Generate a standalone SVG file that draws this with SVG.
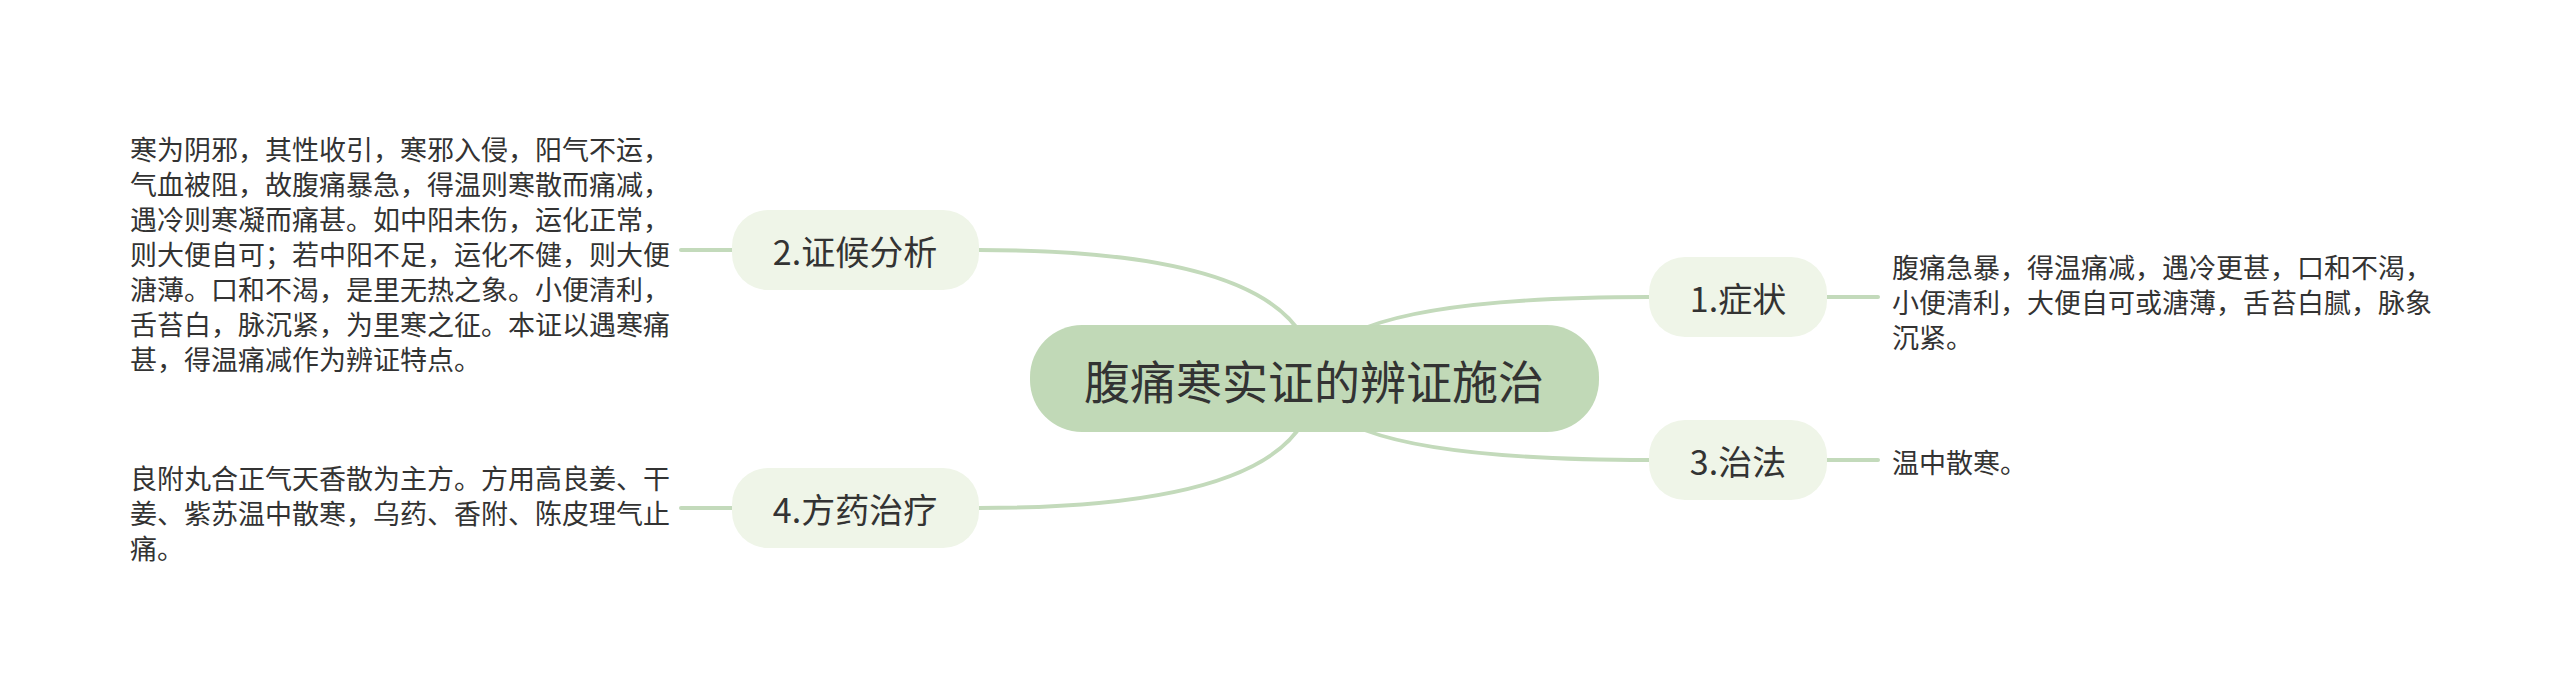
<svg xmlns="http://www.w3.org/2000/svg" width="2560" height="689" viewBox="0 0 2560 689">
<style>
.bg{fill:#ffffff}
.conn{fill:none;stroke:#c3dabb;stroke-width:4;stroke-linecap:round}
.root{fill:#c1d9b7}
.sub{fill:#eff5e8}
.t{font-family:"Noto Sans CJK SC","Noto Sans",sans-serif;fill:#333333;dominant-baseline:central}
.rt{font-size:46px;text-anchor:middle}
.st{font-size:34px;text-anchor:middle}
.lt{font-size:27px}
</style>
<rect class="bg" x="0" y="0" width="2560" height="689"/>
<g id="connectors">
<path class="conn" d="M1314,380 Q1314,250 979,250"/>
<path class="conn" d="M1314,380 Q1314,508 979,508"/>
<path class="conn" d="M1314,380 Q1314,297 1649,297"/>
<path class="conn" d="M1314,380 Q1314,460 1649,460"/>
<path class="conn" d="M681,250 L732,250"/>
<path class="conn" d="M681,508 L732,508"/>
<path class="conn" d="M1827,297 L1878,297"/>
<path class="conn" d="M1827,460 L1878,460"/>
</g>
<g id="root">
<rect class="root" x="1030" y="325" width="569" height="107" rx="52"/>
<text class="t rt" x="1314" y="379">腹痛寒实证的辨证施治</text>
</g>
<g id="node-2">
<rect class="sub" x="732" y="210" width="247" height="80" rx="36"/>
<text class="t st" x="855" y="250">2.证候分析</text>
</g>
<g id="node-4">
<rect class="sub" x="732" y="468" width="247" height="80" rx="36"/>
<text class="t st" x="855" y="508">4.方药治疗</text>
</g>
<g id="node-1">
<rect class="sub" x="1649" y="257" width="178" height="80" rx="36"/>
<text class="t st" x="1738" y="297">1.症状</text>
</g>
<g id="node-3">
<rect class="sub" x="1649" y="420" width="178" height="80" rx="36"/>
<text class="t st" x="1738" y="460">3.治法</text>
</g>
<g id="leaf-2">
<text class="t lt" x="130" y="148">寒为阴邪，其性收引，寒邪入侵，阳气不运，</text>
<text class="t lt" x="130" y="183">气血被阻，故腹痛暴急，得温则寒散而痛减，</text>
<text class="t lt" x="130" y="218">遇冷则寒凝而痛甚。如中阳未伤，运化正常，</text>
<text class="t lt" x="130" y="253">则大便自可；若中阳不足，运化不健，则大便</text>
<text class="t lt" x="130" y="288">溏薄。口和不渴，是里无热之象。小便清利，</text>
<text class="t lt" x="130" y="323">舌苔白，脉沉紧，为里寒之征。本证以遇寒痛</text>
<text class="t lt" x="130" y="358">甚，得温痛减作为辨证特点。</text>
</g>
<g id="leaf-4">
<text class="t lt" x="130" y="477">良附丸合正气天香散为主方。方用高良姜、干</text>
<text class="t lt" x="130" y="512">姜、紫苏温中散寒，乌药、香附、陈皮理气止</text>
<text class="t lt" x="130" y="547">痛。</text>
</g>
<g id="leaf-1">
<text class="t lt" x="1892" y="266">腹痛急暴，得温痛减，遇冷更甚，口和不渴，</text>
<text class="t lt" x="1892" y="301">小便清利，大便自可或溏薄，舌苔白腻，脉象</text>
<text class="t lt" x="1892" y="336">沉紧。</text>
</g>
<g id="leaf-3">
<text class="t lt" x="1892" y="461">温中散寒。</text>
</g>
</svg>
